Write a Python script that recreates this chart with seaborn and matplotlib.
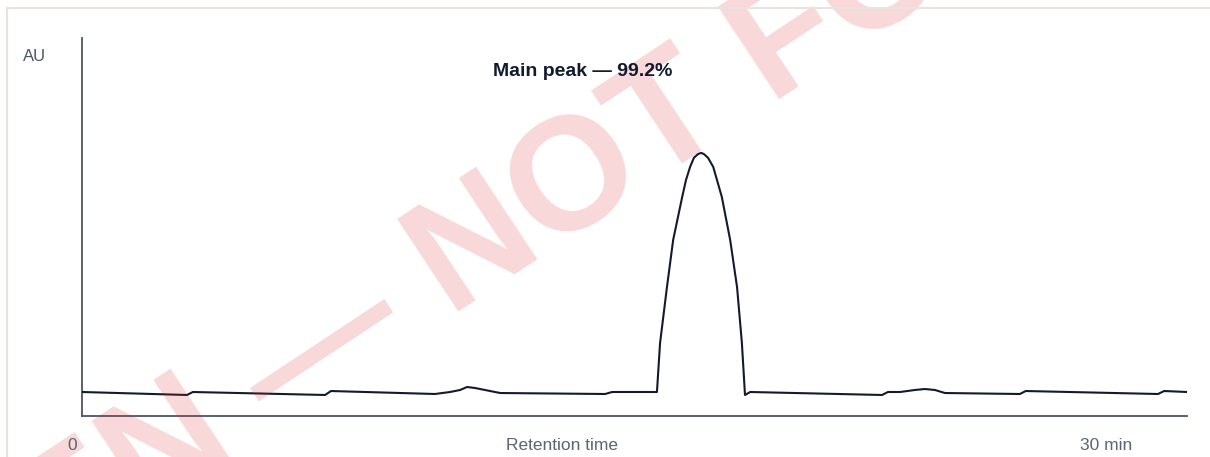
import numpy as np
import pandas as pd
import seaborn as sns
import matplotlib.pyplot as plt
from matplotlib.lines import Line2D

# chromatogram trace (minutes, AU)
t_min = [0.0, 3.04, 3.21, 7.04, 7.21, 10.22, 10.66, 10.95, 11.15, 11.38, 12.11,
         15.15, 15.35, 16.65, 16.74, 16.94, 17.12, 17.38, 17.49, 17.61, 17.72,
         17.84, 17.93, 18.01, 18.13, 18.28, 18.39, 18.53, 18.77, 18.97, 19.11,
         19.20, 19.35, 23.17, 23.34, 23.69, 24.12, 24.41, 24.70, 24.99, 27.16,
         27.33, 31.16, 31.34, 32.0]
au = [6.35, 5.56, 6.35, 5.56, 6.61, 5.82, 6.35, 6.88, 7.67, 7.41, 6.08,
      5.82, 6.35, 6.35, 19.3, 34.1, 46.6, 57.9, 62.4, 65.9, 68.3,
      69.3, 69.6, 69.3, 68.3, 65.9, 62.4, 57.9, 46.6, 34.1, 19.3,
      5.56, 6.35, 5.56, 6.35, 6.35, 6.88, 7.14, 6.88, 6.08, 5.82,
      6.61, 5.82, 6.61, 6.35]

peak_label = "Main peak \u2014 99.2%"
x_labels = ["0", "Retention time", "30 min"]
y_label = "AU"
watermark_left = "SPECIMEN \u2014"
watermark_right = "NOT FOR USE"

df = pd.DataFrame({'t': t_min, 'au': au})

sns.set_theme(style="white")
plt.rcParams['font.family'] = ['Liberation Sans', 'DejaVu Sans']

W, H = 1210, 457
fig = plt.figure(figsize=(W / 100, H / 100), dpi=100)
fig.patch.set_facecolor('white')

def fx(px):
    return px / W

def fy(py):
    return 1 - py / H

ax = fig.add_axes([fx(82), fy(416), fx(1187) - fx(82), fy(38) - fy(416)])
ax.set_facecolor('none')

sns.lineplot(data=df, x='t', y='au', ax=ax, color='#111a2e', linewidth=1.5, zorder=3)

ax.set_xlim(0, 32)
ax.set_ylim(0, 100)
ax.set_xticks([])
ax.set_yticks([])
ax.set_xlabel('')
ax.set_ylabel('')
for side in ['top', 'right']:
    ax.spines[side].set_visible(False)
for side in ['left', 'bottom']:
    ax.spines[side].set_color('#4a5568')
    ax.spines[side].set_linewidth(1.3)

# watermark (behind everything)
wm_size = 116
ang = 33.5
rad = np.deg2rad(ang)
ax_pt = (450, 317)  # baseline start of "NOT"
space = 0.278 * wm_size * 100 / 72
lx = ax_pt[0] - space * np.cos(rad)
ly = ax_pt[1] + space * np.sin(rad)
fig.text(fx(ax_pt[0]), fy(ax_pt[1]), watermark_right, rotation=ang, rotation_mode='anchor',
         ha='left', va='baseline', fontsize=wm_size, fontweight='bold',
         color='#dc2626', alpha=0.18, zorder=0)
fig.text(fx(lx), fy(ly), watermark_left, rotation=ang, rotation_mode='anchor',
         ha='right', va='baseline', fontsize=wm_size, fontweight='bold',
         color='#dc2626', alpha=0.18, zorder=0)

# card border, cropped at top-left
fig.add_artist(Line2D([fx(7), 1.0], [fy(7.5), fy(7.5)], transform=fig.transFigure,
                      color='#e8e3dc', linewidth=1.5, zorder=1))
fig.add_artist(Line2D([fx(7), fx(7)], [fy(7.5), 0.0], transform=fig.transFigure,
                      color='#e8e3dc', linewidth=1.5, zorder=1))

# labels
fig.text(fx(23), fy(61), y_label, ha='left', va='baseline', fontsize=12, color='#4b5563')
fig.text(fx(583), fy(76), peak_label, ha='center', va='baseline', fontsize=14,
         fontweight='bold', color='#111a2e')
for label, px in zip(x_labels, [72, 562, 1106]):
    fig.text(fx(px), fy(450), label, ha='center', va='baseline', fontsize=12.5, color='#5b6475')

fig.savefig('out.png', dpi=100, facecolor='white')
